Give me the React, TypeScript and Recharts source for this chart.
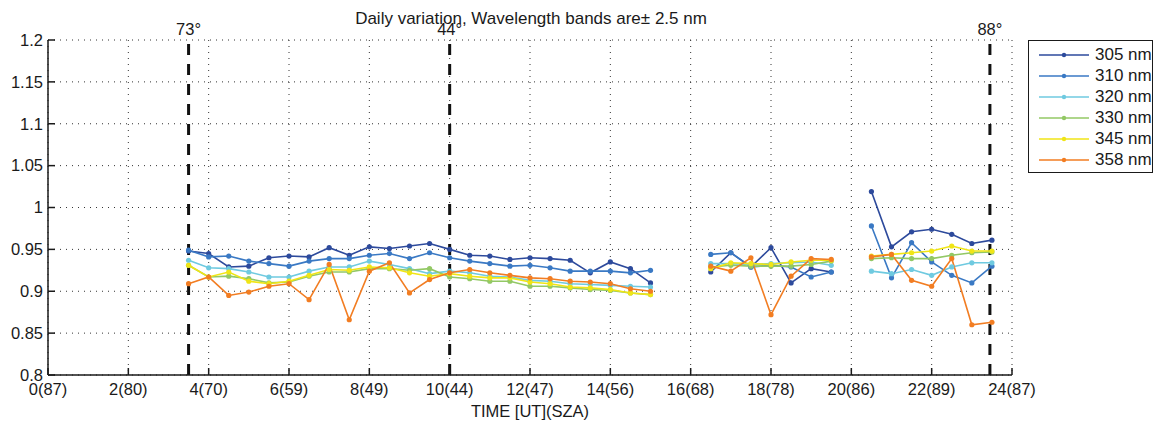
import {
  LineChart,
  Line,
  XAxis,
  YAxis,
  CartesianGrid,
  ReferenceLine,
} from "recharts";

// measurement times (UT hours), three sessions
const hours = [
  3.5, 4, 4.5, 5, 5.5, 6, 6.5, 7, 7.5, 8, 8.5, 9, 9.5, 10, 10.5, 11, 11.5, 12,
  12.5, 13, 13.5, 14, 14.5, 15,
  16.5, 17, 17.5, 18, 18.5, 19, 19.5,
  20.5, 21, 21.5, 22, 22.5, 23, 23.5,
];
// a break in the lines follows these hours
const breaksAfter = [15, 19.5];

const s305 = [
  0.948, 0.945, 0.929, 0.93, 0.94, 0.942, 0.941, 0.952, 0.943, 0.953, 0.951,
  0.954, 0.957, 0.95, 0.943, 0.942, 0.938, 0.94, 0.939, 0.937, 0.922, 0.935,
  0.927, 0.91,
  0.923, 0.946, 0.929, 0.952, 0.91, 0.927, 0.923,
  1.019, 0.953, 0.971, 0.974, 0.968, 0.957, 0.961,
];
const s310 = [
  0.949, 0.941, 0.942, 0.936, 0.933, 0.93, 0.936, 0.939, 0.939, 0.943, 0.945,
  0.939, 0.946, 0.94, 0.936, 0.933, 0.93, 0.931, 0.928, 0.924, 0.924, 0.924,
  0.922, 0.925,
  0.944, 0.946, 0.929, 0.931, 0.929, 0.917, 0.923,
  0.978, 0.916, 0.958, 0.935, 0.919, 0.91, 0.93,
];
const s320 = [
  0.937, 0.928, 0.927, 0.923, 0.917, 0.917, 0.924, 0.929, 0.929, 0.936, 0.932,
  0.927, 0.921, 0.924, 0.922, 0.918, 0.917, 0.913, 0.912, 0.909, 0.908, 0.907,
  0.906, 0.905,
  0.933, 0.933, 0.932, 0.933, 0.934, 0.935, 0.931,
  0.924, 0.921, 0.926, 0.919, 0.929, 0.934, 0.934,
];
const s330 = [
  0.931, 0.917, 0.918, 0.915, 0.91, 0.911, 0.918, 0.923, 0.923, 0.927, 0.927,
  0.925, 0.927, 0.917, 0.915, 0.912, 0.912, 0.906, 0.906, 0.904, 0.902, 0.901,
  0.898, 0.896,
  0.929, 0.931, 0.93, 0.93, 0.93, 0.932, 0.936,
  0.939, 0.94, 0.939, 0.939, 0.943, 0.946, 0.947,
];
const s345 = [
  0.931, 0.917, 0.923, 0.912, 0.909, 0.912, 0.919, 0.926, 0.925, 0.929, 0.928,
  0.922, 0.918, 0.921, 0.918, 0.916, 0.916, 0.911, 0.909, 0.905, 0.904, 0.902,
  0.898, 0.896,
  0.927, 0.934, 0.933, 0.932, 0.935, 0.937, 0.937,
  0.942, 0.944, 0.946, 0.948, 0.954, 0.948, 0.948,
];
const s358 = [
  0.909, 0.917, 0.895, 0.899, 0.906, 0.909, 0.89, 0.932, 0.866, 0.924, 0.934,
  0.898, 0.914, 0.922, 0.926, 0.922, 0.919, 0.916, 0.915, 0.912, 0.911, 0.909,
  0.903, 0.9,
  0.93, 0.924, 0.94, 0.872, 0.918, 0.939, 0.938,
  0.941, 0.944, 0.913, 0.906, 0.939, 0.86, 0.863,
];

const seriesNames = ["305 nm", "310 nm", "320 nm", "330 nm", "345 nm", "358 nm"];
const seriesValues = [s305, s310, s320, s330, s345, s358];
const colors = ["#2d4a9c", "#3a79c4", "#6fcae0", "#93c865", "#f0e516", "#f27d22"];

const xTicks = [0, 2, 4, 6, 8, 10, 12, 14, 16, 18, 20, 22, 24];
const xTickLabels = [
  "0(87)", "2(80)", "4(70)", "6(59)", "8(49)", "10(44)", "12(47)",
  "14(56)", "16(68)", "18(78)", "20(86)", "22(89)", "24(87)",
];
const yTicks = [0.8, 0.85, 0.9, 0.95, 1, 1.05, 1.1, 1.15, 1.2];

// solar zenith angle markers
const markHours = [3.5, 10, 23.45];
const markLabels = ["73°", "44°", "88°"];

const rows: Record<string, number | null>[] = [];
hours.forEach((h, i) => {
  const row: Record<string, number | null> = { t: h };
  seriesNames.forEach((n, k) => (row[n] = seriesValues[k][i]));
  rows.push(row);
  if (breaksAfter.includes(h)) {
    const gap: Record<string, number | null> = { t: h + 0.25 };
    seriesNames.forEach((n) => (gap[n] = null));
    rows.push(gap);
  }
});

const FONT = "'Liberation Sans', Arial, Helvetica, sans-serif";
const ink = "#1a1a1a";
const FS = 16.5;

const fmtY = (v: number) => String(Number(v.toFixed(2)));
const fmtX = (v: number) => xTickLabels[xTicks.indexOf(v)] ?? "";

const LegendBox = () => (
  <div
    style={{
      position: "absolute",
      left: 1028,
      top: 40,
      width: 125,
      height: 133,
      border: `1.5px solid ${ink}`,
      boxSizing: "border-box",
      background: "#fff",
      fontFamily: FONT,
      fontSize: 17,
      color: ink,
      paddingTop: 3,
    }}
  >
    {seriesNames.map((n, i) => (
      <div key={n} style={{ display: "flex", alignItems: "center", height: 21 }}>
        <svg width={62} height={10} style={{ marginLeft: 8 }}>
          <line x1={2} y1={5} x2={52} y2={5} stroke={colors[i]} strokeWidth={1.5} />
          <circle cx={27} cy={5} r={2.2} fill={colors[i]} />
        </svg>
        <span style={{ marginLeft: -4 }}>{n}</span>
      </div>
    ))}
  </div>
);

export default function App() {
  return (
    <div style={{ position: "absolute", left: 0, top: 0, width: 1160, height: 421, background: "#fff" }}>
      <div
        style={{
          position: "absolute",
          left: 0,
          width: 1062,
          top: 9,
          textAlign: "center",
          fontFamily: FONT,
          fontSize: 17,
          color: ink,
        }}
      >
        Daily variation, Wavelength bands are± 2.5 nm
      </div>
      <LineChart
        width={1160}
        height={421}
        data={rows}
        margin={{ top: 40, right: 148, bottom: 0, left: 0 }}
        style={{ fontFamily: FONT }}
      >
        <CartesianGrid stroke="#333" strokeDasharray="1 5" strokeWidth={1} />
        <XAxis
          dataKey="t"
          type="number"
          domain={[0, 24]}
          ticks={xTicks}
          tickFormatter={fmtX}
          height={46}
          stroke={ink}
          strokeWidth={1.5}
          tickSize={-7}
          tickMargin={15}
          interval={0}
          tick={{ fill: ink, fontSize: FS }}
          label={{ value: "TIME [UT](SZA)", position: "insideBottom", offset: 4, fill: ink, fontSize: FS }}
        />
        <XAxis
          xAxisId="top"
          dataKey="t"
          type="number"
          orientation="top"
          domain={[0, 24]}
          ticks={xTicks}
          tickFormatter={() => ""}
          height={0}
          stroke={ink}
          strokeWidth={1.5}
          tickSize={-7}
        />
        <YAxis
          type="number"
          domain={[0.8, 1.2]}
          ticks={yTicks}
          tickFormatter={fmtY}
          width={48}
          stroke={ink}
          strokeWidth={1.5}
          tickSize={-7}
          tickMargin={12}
          interval={0}
          tick={{ fill: ink, fontSize: FS }}
        />
        <YAxis
          yAxisId="right"
          orientation="right"
          type="number"
          domain={[0.8, 1.2]}
          ticks={yTicks}
          tickFormatter={() => ""}
          width={0}
          stroke={ink}
          strokeWidth={1.5}
          tickSize={-7}
        />
        {markHours.map((h, i) => (
          <ReferenceLine
            key={h}
            x={h}
            stroke="#111"
            strokeWidth={3}
            strokeDasharray="11 9"
            label={{ value: markLabels[i], position: "top", fill: ink, fontSize: FS }}
          />
        ))}
        {seriesNames.map((n, i) => (
          <Line
            key={n}
            dataKey={n}
            type="linear"
            stroke={colors[i]}
            strokeWidth={1.6}
            dot={{ r: 2.6, fill: colors[i], stroke: colors[i], strokeWidth: 0 }}
            activeDot={false}
            connectNulls={false}
            isAnimationActive={false}
          />
        ))}
      </LineChart>
      <LegendBox />
    </div>
  );
}
